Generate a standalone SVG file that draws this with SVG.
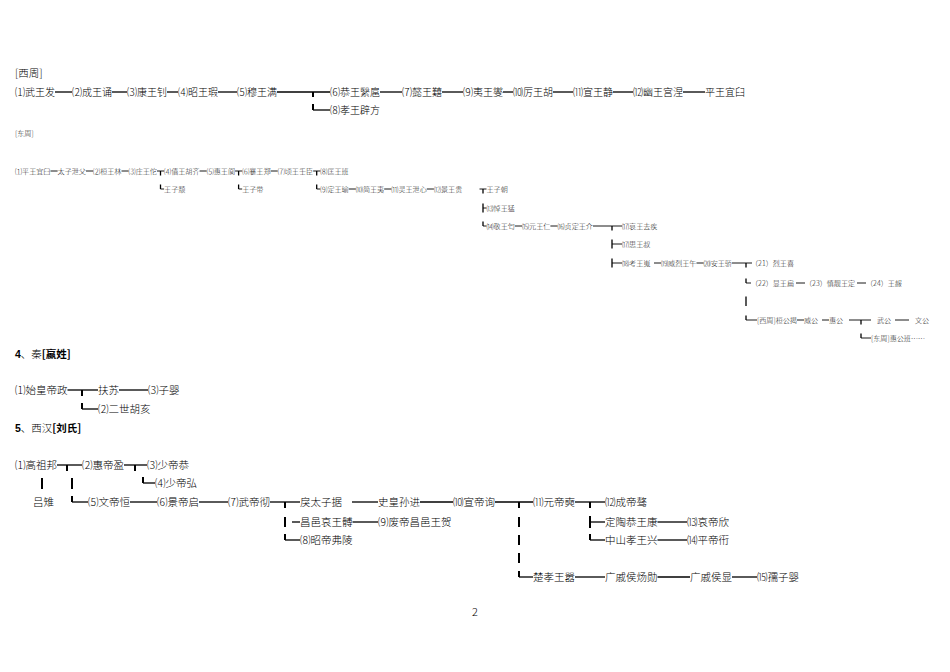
<svg xmlns="http://www.w3.org/2000/svg" width="950" height="672" viewBox="0 0 950 672">
<style>
text{font-family:"Noto Sans CJK SC","Liberation Serif",serif;fill:#000;font-weight:300}
.w{font-size:10px}
.b{font-size:10.5px}
.s{font-size:7.1px;fill:#222}
.hd{font-size:10.5px}
.bold{font-weight:bold}
.c line{stroke:#000;stroke-width:1.3}
.c line.v{stroke-width:2}
.c line.sh{stroke-width:0.9}
.c line.sv{stroke-width:1.3}
</style>
<rect width="950" height="672" fill="#fff"/>

<!-- labels -->
<text class="hd" x="15" y="77">[西周]</text>
<text class="s" x="15" y="136">[东周]</text>
<text class="hd" x="15" y="358"><tspan class="bold" font-family="Liberation Sans">4</tspan>、秦<tspan class="bold">[嬴姓]</tspan></text>
<text class="hd" x="15" y="432"><tspan class="bold" font-family="Liberation Sans">5</tspan>、西汉<tspan class="bold">[刘氏]</tspan></text>
<text x="475" y="616" font-family="Liberation Serif" font-size="11" text-anchor="middle">2</text>

<g id="connectors" class="c">
<!-- Western Zhou -->
<line x1="55" y1="92" x2="72" y2="92"/>
<line x1="112" y1="92" x2="127" y2="92"/>
<line x1="167" y1="92" x2="178" y2="92"/>
<line x1="218" y1="92" x2="237" y2="92"/>
<line x1="277" y1="92" x2="330" y2="92"/>
<line class="v" x1="313" y1="92" x2="313" y2="97"/>
<line class="v" x1="313" y1="104" x2="313" y2="110"/>
<line x1="313" y1="110" x2="330" y2="110"/>
<line x1="380" y1="92" x2="402" y2="92"/>
<line x1="442" y1="92" x2="463" y2="92"/>
<line x1="503" y1="92" x2="513" y2="92"/>
<line x1="553" y1="92" x2="573" y2="92"/>
<line x1="613" y1="92" x2="633" y2="92"/>
<line x1="683" y1="92" x2="705" y2="92"/>

<!-- Eastern Zhou -->
<line class="sh" x1="50.5" y1="171" x2="57.6" y2="171"/>
<line class="sh" x1="86" y1="171" x2="93.1" y2="171"/>
<line class="sh" x1="121.5" y1="171" x2="128.6" y2="171"/>
<line class="sh" x1="157" y1="171" x2="164.1" y2="171"/>
<line class="sv" x1="160.5" y1="171" x2="160.5" y2="175.5"/>
<line class="sh" x1="199.6" y1="171" x2="206.7" y2="171"/>
<line class="sh" x1="235.1" y1="171" x2="242.2" y2="171"/>
<line class="sv" x1="238.6" y1="171" x2="238.6" y2="175.5"/>
<line class="sh" x1="270.6" y1="171" x2="277.7" y2="171"/>
<line class="sh" x1="313.2" y1="171" x2="320.3" y2="171"/>
<line class="sv" x1="316.7" y1="171" x2="316.7" y2="175.5"/>

<line class="sv" x1="160.5" y1="184.5" x2="160.5" y2="189"/>
<line class="sh" x1="160.5" y1="189" x2="164.1" y2="189"/>
<line class="sv" x1="238.6" y1="184.5" x2="238.6" y2="189"/>
<line class="sh" x1="238.6" y1="189" x2="242.2" y2="189"/>
<line class="sv" x1="316.7" y1="184.5" x2="316.7" y2="189"/>
<line class="sh" x1="316.7" y1="189" x2="320.3" y2="189"/>
<line class="sh" x1="348.7" y1="189" x2="355.8" y2="189"/>
<line class="sh" x1="384.2" y1="189" x2="391.3" y2="189"/>
<line class="sh" x1="426.8" y1="189" x2="433.9" y2="189"/>
<line class="sh" x1="479.5" y1="189" x2="486.5" y2="189"/>
<line class="sv" x1="483" y1="189" x2="483" y2="193.5"/>

<line class="sv" x1="483" y1="203.5" x2="483" y2="212.5"/>
<line class="sh" x1="483" y1="208" x2="486.5" y2="208"/>
<line class="sv" x1="483" y1="221.5" x2="483" y2="226"/>
<line class="sh" x1="483" y1="226" x2="486.5" y2="226"/>
<line class="sh" x1="514.9" y1="226" x2="522" y2="226"/>
<line class="sh" x1="550.4" y1="226" x2="557.5" y2="226"/>
<line class="sh" x1="593" y1="226" x2="622" y2="226"/>
<line class="sv" x1="612" y1="226" x2="612" y2="230.5"/>
<line class="sv" x1="612" y1="239.5" x2="612" y2="248.5"/>
<line class="sh" x1="612" y1="244" x2="622" y2="244"/>
<line class="sv" x1="612" y1="258.5" x2="612" y2="267.5"/>
<line class="sh" x1="612" y1="263" x2="622" y2="263"/>
<line class="sh" x1="654" y1="263" x2="661" y2="263"/>
<line class="sh" x1="696.5" y1="263" x2="703.6" y2="263"/>
<line class="sh" x1="732" y1="263" x2="752" y2="263"/>
<line class="sv" x1="746" y1="263" x2="746" y2="267.5"/>
<line class="sv" x1="746" y1="278.5" x2="746" y2="283"/>
<line class="sh" x1="746" y1="283" x2="751" y2="283"/>
<line class="sh" x1="796" y1="283" x2="805" y2="283"/>
<line class="sh" x1="857" y1="283" x2="866" y2="283"/>
<line class="sv" x1="746" y1="296.5" x2="746" y2="306"/>
<line class="sv" x1="746" y1="315.5" x2="746" y2="320"/>
<line class="sh" x1="746" y1="320" x2="757" y2="320"/>
<line class="sh" x1="797" y1="320" x2="804" y2="320"/>
<line class="sh" x1="822" y1="320" x2="829" y2="320"/>
<line class="sh" x1="849" y1="320" x2="871" y2="320"/>
<line class="sv" x1="861" y1="320" x2="861" y2="324.5"/>
<line class="sh" x1="895" y1="320" x2="909" y2="320"/>
<line class="sv" x1="861" y1="333.5" x2="861" y2="338"/>
<line class="sh" x1="861" y1="338" x2="871" y2="338"/>

<!-- Qin -->
<line x1="67.5" y1="390" x2="98" y2="390"/>
<line class="v" x1="82" y1="390" x2="82" y2="396"/>
<line class="v" x1="82" y1="403" x2="82" y2="409"/>
<line x1="82" y1="409" x2="98" y2="409"/>
<line x1="119" y1="390" x2="148" y2="390"/>

<!-- Western Han -->
<line x1="57" y1="465" x2="82" y2="465"/>
<line class="v" x1="67" y1="465" x2="67" y2="471"/>
<line x1="124" y1="465" x2="147" y2="465"/>
<line class="v" x1="135" y1="465" x2="135" y2="471"/>
<line class="v" x1="143" y1="477" x2="143" y2="483"/>
<line x1="143" y1="483" x2="155" y2="483"/>
<line class="v" x1="42" y1="478" x2="42" y2="489"/>
<line class="v" x1="72" y1="478" x2="72" y2="489"/>
<line class="v" x1="72" y1="496" x2="72" y2="502"/>
<line x1="72" y1="502" x2="88" y2="502"/>
<line x1="130" y1="502" x2="157" y2="502"/>
<line x1="199" y1="502" x2="228" y2="502"/>
<line x1="270" y1="502" x2="300" y2="502"/>
<line class="v" x1="285" y1="502" x2="285" y2="508"/>
<line x1="352" y1="502" x2="378" y2="502"/>
<line x1="420" y1="502" x2="453" y2="502"/>
<line x1="495" y1="502" x2="533" y2="502"/>
<line class="v" x1="519" y1="502" x2="519" y2="508"/>
<line x1="575" y1="502" x2="605" y2="502"/>
<line class="v" x1="590" y1="502" x2="590" y2="508"/>

<line class="v" x1="285" y1="517" x2="285" y2="527"/>
<line x1="292" y1="522" x2="300" y2="522"/>
<line x1="352.5" y1="522" x2="378" y2="522"/>
<line class="v" x1="519" y1="517" x2="519" y2="527"/>
<line class="v" x1="590" y1="516" x2="590" y2="528"/>
<line x1="590" y1="522" x2="605" y2="522"/>
<line x1="657.5" y1="522" x2="687" y2="522"/>

<line class="v" x1="285" y1="534" x2="285" y2="540"/>
<line x1="285" y1="540" x2="300" y2="540"/>
<line class="v" x1="519" y1="535" x2="519" y2="545"/>
<line class="v" x1="590" y1="534" x2="590" y2="540"/>
<line x1="590" y1="540" x2="605" y2="540"/>
<line x1="657.5" y1="540" x2="687" y2="540"/>
<line class="v" x1="519" y1="553" x2="519" y2="563"/>
<line class="v" x1="519" y1="571" x2="519" y2="577"/>
<line x1="519" y1="577" x2="533" y2="577"/>
<line x1="575" y1="577" x2="605" y2="577"/>
<line x1="657.5" y1="577" x2="690" y2="577"/>
<line x1="732" y1="577" x2="757" y2="577"/>
</g>

<!-- Western Zhou nodes -->
<g id="wz1"><text class="w" x="15" y="96">⑴武王发</text></g>
<g id="wz2"><text class="w" x="72" y="96">⑵成王诵</text></g>
<g id="wz3"><text class="w" x="127" y="96">⑶康王钊</text></g>
<g id="wz4"><text class="w" x="178" y="96">⑷昭王瑕</text></g>
<g id="wz5"><text class="w" x="237" y="96">⑸穆王满</text></g>
<g id="wz6"><text class="w" x="330" y="96">⑹恭王繄扈</text></g>
<g id="wz8"><text class="w" x="330" y="114">⑻孝王辟方</text></g>
<g id="wz7"><text class="w" x="402" y="96">⑺懿王囏</text></g>
<g id="wz9"><text class="w" x="463" y="96">⑼夷王燮</text></g>
<g id="wz10"><text class="w" x="513" y="96">⑽厉王胡</text></g>
<g id="wz11"><text class="w" x="573" y="96">⑾宣王静</text></g>
<g id="wz12"><text class="w" x="633" y="96">⑿幽王宫涅</text></g>
<g id="wz13"><text class="w" x="705" y="96">平王宜臼</text></g>

<!-- Eastern Zhou nodes -->
<g id="ez1"><text class="s" x="15" y="174">⑴平王宜臼</text></g>
<g id="ez-xiefu"><text class="s" x="57.6" y="174">太子泄父</text></g>
<g id="ez2"><text class="s" x="93.1" y="174">⑵桓王林</text></g>
<g id="ez3"><text class="s" x="128.6" y="174">⑶庄王佗</text></g>
<g id="ez4"><text class="s" x="164.1" y="174">⑷僖王胡齐</text></g>
<g id="ez5"><text class="s" x="206.7" y="174">⑸惠王阆</text></g>
<g id="ez6"><text class="s" x="242.2" y="174">⑹襄王郑</text></g>
<g id="ez7"><text class="s" x="277.7" y="174">⑺顷王壬臣</text></g>
<g id="ez8"><text class="s" x="320.3" y="174">⑻匡王班</text></g>
<g id="ez-tui"><text class="s" x="164.1" y="192">王子颓</text></g>
<g id="ez-dai"><text class="s" x="242.2" y="192">王子带</text></g>
<g id="ez9"><text class="s" x="320.3" y="192">⑼定王瑜</text></g>
<g id="ez10"><text class="s" x="355.8" y="192">⑽简王夷</text></g>
<g id="ez11"><text class="s" x="391.3" y="192">⑾灵王泄心</text></g>
<g id="ez12"><text class="s" x="433.9" y="192">⑿景王贵</text></g>
<g id="ez-chao"><text class="s" x="486.5" y="192">王子朝</text></g>
<g id="ez13"><text class="s" x="486.5" y="211">⒀悼王猛</text></g>
<g id="ez14"><text class="s" x="486.5" y="229">⒁敬王匄</text></g>
<g id="ez15"><text class="s" x="522" y="229">⒂元王仁</text></g>
<g id="ez16"><text class="s" x="557.5" y="229">⒃贞定王介</text></g>
<g id="ez17a"><text class="s" x="622" y="229">⒄哀王去疾</text></g>
<g id="ez17b"><text class="s" x="622" y="247">⒄思王叔</text></g>
<g id="ez18"><text class="s" x="622" y="266">⒅考王嵬</text></g>
<g id="ez19"><text class="s" x="661" y="266">⒆威烈王午</text></g>
<g id="ez20"><text class="s" x="703.6" y="266">⒇安王骄</text></g>
<g id="ez21"><text class="s" x="751" y="266">（21）烈王喜</text></g>
<g id="ez22"><text class="s" x="751" y="286">（22）显王扁</text></g>
<g id="ez23"><text class="s" x="805" y="286">（23）慎靓王定</text></g>
<g id="ez24"><text class="s" x="866" y="286">（24）王赧</text></g>
<g id="ez-huan"><text class="s" x="757" y="323">[西周]桓公揭</text></g>
<g id="ez-wei"><text class="s" x="804" y="323">威公</text></g>
<g id="ez-hui"><text class="s" x="829" y="323">惠公</text></g>
<g id="ez-wu"><text class="s" x="877" y="323">武公</text></g>
<g id="ez-wen"><text class="s" x="915" y="323">文公</text></g>
<g id="ez-huiban"><text class="s" x="871" y="341">[东周]惠公班……</text></g>

<!-- Qin nodes -->
<g id="q1"><text class="b" x="15" y="394">⑴始皇帝政</text></g>
<g id="q-fusu"><text class="b" x="98" y="394">扶苏</text></g>
<g id="q3"><text class="b" x="148" y="394">⑶子婴</text></g>
<g id="q2"><text class="b" x="98" y="413">⑵二世胡亥</text></g>

<!-- Western Han nodes -->
<g id="h1"><text class="b" x="15" y="469">⑴高祖邦</text></g>
<g id="h2"><text class="b" x="82" y="469">⑵惠帝盈</text></g>
<g id="h3"><text class="b" x="147" y="469">⑶少帝恭</text></g>
<g id="h4"><text class="b" x="155" y="487">⑷少帝弘</text></g>
<g id="h-lvzhi"><text class="b" x="33" y="506">吕雉</text></g>
<g id="h5"><text class="b" x="88" y="506">⑸文帝恒</text></g>
<g id="h6"><text class="b" x="157" y="506">⑹景帝启</text></g>
<g id="h7"><text class="b" x="228" y="506">⑺武帝彻</text></g>
<g id="h-lijuz"><text class="b" x="300" y="506">戾太子据</text></g>
<g id="h-shihuang"><text class="b" x="378" y="506">史皇孙进</text></g>
<g id="h10"><text class="b" x="453" y="506">⑽宣帝询</text></g>
<g id="h11"><text class="b" x="533" y="506">⑾元帝奭</text></g>
<g id="h12"><text class="b" x="605" y="506">⑿成帝骜</text></g>
<g id="h-changyi"><text class="b" x="300" y="526">昌邑哀王髆</text></g>
<g id="h9"><text class="b" x="378" y="526">⑼废帝昌邑王贺</text></g>
<g id="h-dingtao"><text class="b" x="605" y="526">定陶恭王康</text></g>
<g id="h13"><text class="b" x="687" y="526">⒀哀帝欣</text></g>
<g id="h8"><text class="b" x="300" y="544">⑻昭帝弗陵</text></g>
<g id="h-zhongshan"><text class="b" x="605" y="544">中山孝王兴</text></g>
<g id="h14"><text class="b" x="687" y="544">⒁平帝衎</text></g>
<g id="h-chuxiao"><text class="b" x="533" y="581">楚孝王嚣</text></g>
<g id="h-xunxun"><text class="b" x="605" y="581">广戚侯炀勋</text></g>
<g id="h-xian"><text class="b" x="690" y="581">广戚侯显</text></g>
<g id="h15"><text class="b" x="757" y="581">⒂孺子婴</text></g>
</svg>
